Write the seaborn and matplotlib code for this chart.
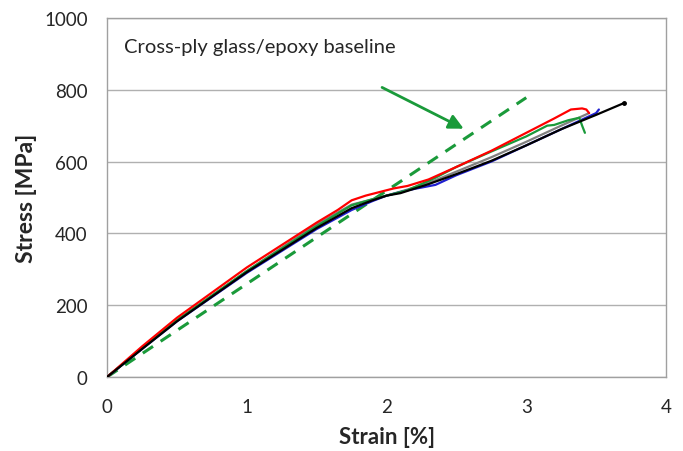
import numpy as np
import pandas as pd
import matplotlib
matplotlib.use('Agg')
import matplotlib.pyplot as plt
import seaborn as sns

# strain [%] / stress [MPa]
red_strain = [0, 0.25, 0.5, 1.0, 1.5, 1.65, 1.75, 1.85, 1.95, 2.05, 2.15, 2.3, 2.5, 2.75, 3.0, 3.2, 3.32, 3.4, 3.43, 3.45]
red_stress = [0, 85, 165, 305, 430, 465, 492, 505, 515, 525, 532, 550, 585, 630, 680, 720, 745, 748, 745, 735]
green_strain = [0, 0.25, 0.5, 1.0, 1.5, 1.75, 1.9, 2.0, 2.15, 2.35, 2.5, 2.75, 3.0, 3.15, 3.2, 3.3, 3.38, 3.4, 3.42]
green_stress = [0, 80, 158, 295, 420, 478, 495, 505, 520, 555, 585, 628, 670, 700, 702, 715, 722, 700, 680]
blue_strain = [0, 0.25, 0.5, 1.0, 1.5, 1.75, 1.9, 2.0, 2.15, 2.35, 2.5, 2.75, 3.0, 3.25, 3.5, 3.52]
blue_stress = [0, 78, 155, 290, 412, 465, 490, 505, 520, 535, 562, 600, 645, 690, 735, 745]
grey_strain = [0, 0.25, 0.5, 1.0, 1.5, 1.75, 1.9, 2.0, 2.15, 2.35, 2.5, 2.75, 3.0, 3.25, 3.45]
grey_stress = [0, 80, 158, 295, 425, 480, 495, 505, 522, 548, 572, 612, 655, 700, 735]
black_strain = [0, 0.25, 0.5, 1.0, 1.5, 1.75, 1.9, 2.0, 2.1, 2.3, 2.5, 2.75, 3.0, 3.25, 3.5, 3.7]
black_stress = [0, 78, 155, 292, 415, 470, 492, 505, 512, 537, 565, 602, 645, 690, 730, 763]
base_strain = [0, 3.0]
base_stress = [0, 778]

curves = {
    'red': (red_strain, red_stress, '#ff0000'),
    'green': (green_strain, green_stress, '#1a9a3a'),
    'blue': (blue_strain, blue_stress, '#1f1fd0'),
    'grey': (grey_strain, grey_stress, '#808080'),
    'black': (black_strain, black_stress, '#000000'),
}

rows = []
for name, (s, t, c) in curves.items():
    for a, b in zip(s, t):
        rows.append({'specimen': name, 'strain': a, 'stress': b})
df = pd.DataFrame(rows)
palette = {k: v[2] for k, v in curves.items()}

sns.set_style('white')
plt.rcParams['font.family'] = ['Lato', 'DejaVu Sans']

fig = plt.figure(figsize=(6.83, 4.52), dpi=100)
ax = fig.add_axes([0.157, 0.164, 0.818, 0.794])

sns.lineplot(data=pd.DataFrame({'strain': base_strain, 'stress': base_stress}),
             x='strain', y='stress', ax=ax, color='#1a9a3a', lw=2.2,
             linestyle=(0, (4, 3)), zorder=2)
sns.lineplot(data=df, x='strain', y='stress', hue='specimen', palette=palette,
             hue_order=['grey', 'blue', 'green', 'red', 'black'],
             ax=ax, lw=1.6, sort=False, estimator=None, legend=False, zorder=3)
ax.plot(black_strain[-1], black_stress[-1], 'o', color='black', ms=2.5, zorder=4)

ax.set_xlim(0, 4)
ax.set_ylim(0, 1000)
ax.set_xticks([0, 1, 2, 3, 4])
ax.set_yticks(np.arange(0, 1001, 200))
ax.yaxis.grid(True, color='#b0b0b0', lw=1)
ax.set_axisbelow(True)
for sp in ax.spines.values():
    sp.set_color('#a0a0a0')
    sp.set_linewidth(1)
ax.tick_params(axis='both', direction='out', length=5, color='#808080', labelsize=13.5)
ax.tick_params(axis='x', pad=10)
ax.tick_params(axis='y', pad=9)
ax.set_xlabel('Strain [%]', fontsize=16, fontweight='bold', labelpad=8)
ax.set_ylabel('Stress [MPa]', fontsize=16.5, fontweight='bold', labelpad=5)

ax.text(0.12, 920, 'Cross-ply glass/epoxy baseline', fontsize=14.5, va='center', ha='left')
ax.annotate('', xy=(2.57, 688), xytext=(1.95, 810),
            arrowprops=dict(arrowstyle='-|>', color='#1a9a3a', lw=2, mutation_scale=22))

fig.savefig('out.png', dpi=100)
